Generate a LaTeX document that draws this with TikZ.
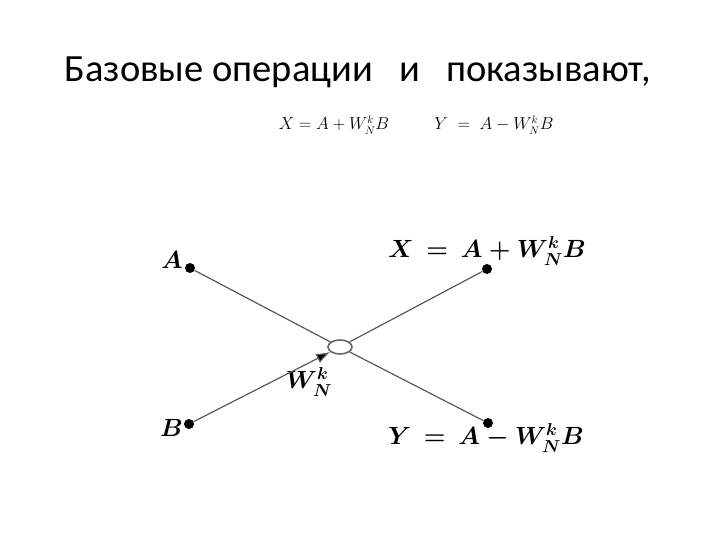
\documentclass[tikz,border=0pt]{standalone}
\usepackage{fontspec}
\setmainfont{Carlito}
\usepackage{amsmath}
\usetikzlibrary{shapes.geometric}
\usetikzlibrary{arrows.meta}
\tikzset{
x=1pt, y=-1pt, % one unit per pixel of the slide
dot/.style={circle, fill=black, inner sep=0pt, minimum size=10pt}, % the black end points
hub/.style={ellipse, draw=gray!80!black, line width=1.6pt, fill=white, minimum width=24pt, minimum height=14pt, inner sep=0pt}, % the butterfly centre
wire/.style={draw=gray!70!black, line width=1.2pt}, % the four branches
tag/.style={font=\fontsize{25}{28}\selectfont\boldmath, inner sep=1pt}, % labels in the graph
}

\begin{document}
\begin{tikzpicture}
\useasboundingbox (0,0) rectangle (720,540);
% title and formulas
\node (title) at (358,72) {\fontsize{38.5}{44}\selectfont Базовые операции \ \ и \ \ показывают,};
\node (fX) at (334,125) {\fontsize{16}{18}\selectfont $X = A + W_N^k B$};
\node (fY) at (494,125) {\fontsize{16}{18}\selectfont $Y \;=\; A - W_N^k B$};
% butterfly
\node[dot] (A) at (190,268) {};
\node[dot] (X) at (487,269) {};
\node[dot] (B) at (189,424) {};
\node[dot] (Y) at (488,423) {};
\node[hub] (C) at (340,347) {};
\node[tag, anchor=east] (lA) at (184,260) {$A$};
\node[tag, anchor=east] (lB) at (184,428) {$B$};
\node[tag] (lX) at (487,251) {$X \,=\, A + W_N^k B$};
\node[tag] (lY) at (486,438) {$Y \,=\, A - W_N^k B$};
\node[tag] (lW) at (309,382) {$W_N^k$};
\draw[wire] (A) -- (C);
\draw[wire] (C) -- (X);
\draw[wire] (C) -- (Y);
\draw[wire, -{Latex[length=14pt, width=10pt, fill=black]}] (B) -- (C);
\end{tikzpicture}
\end{document}
